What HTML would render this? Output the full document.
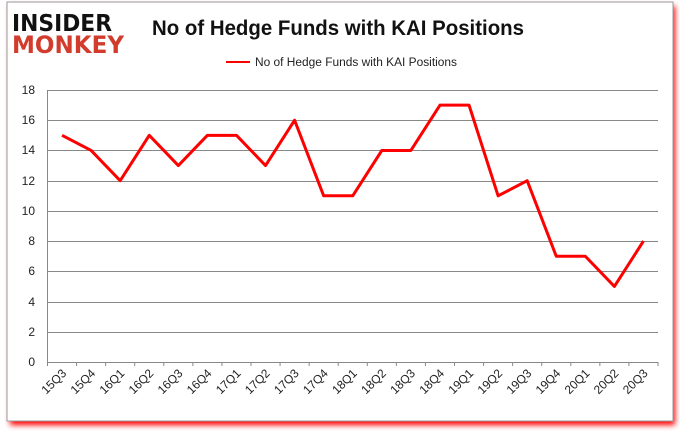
<!DOCTYPE html>
<html><head><style>
body{margin:0;width:680px;height:433px;background:#fff;overflow:hidden;font-family:"Liberation Sans",sans-serif}
</style></head><body>
<svg width="680" height="433" xmlns="http://www.w3.org/2000/svg">
<defs><filter id="sh" x="-5%" y="-5%" width="110%" height="115%"><feGaussianBlur stdDeviation="3"/></filter></defs>
<rect x="10" y="6" width="665" height="419" fill="#f00" filter="url(#sh)"/>
<rect x="7" y="2" width="666" height="419" fill="#fff" stroke="#999" stroke-width="1"/>
<text x="12" y="31" font-size="23" font-weight="bold" fill="#111" font-family="DejaVu Sans" textLength="100" lengthAdjust="spacingAndGlyphs">INSIDER</text>
<text x="12" y="53" font-size="24" font-weight="bold" fill="#d23c2c" font-family="DejaVu Sans" textLength="112" lengthAdjust="spacingAndGlyphs">MONKEY</text>
<text x="338" y="35" font-size="21" font-weight="bold" text-anchor="middle" fill="#111" textLength="372" lengthAdjust="spacingAndGlyphs">No of Hedge Funds with KAI Positions</text>
<line x1="226" y1="62" x2="250" y2="62" stroke="#f00" stroke-width="2"/>
<text x="255" y="66" font-size="11.5" fill="#222" textLength="202" lengthAdjust="spacingAndGlyphs">No of Hedge Funds with KAI Positions</text>
<g stroke="#888" stroke-width="1">
<line x1="47.5" y1="90.5" x2="658" y2="90.5"/><line x1="47.5" y1="120.5" x2="658" y2="120.5"/>
<line x1="47.5" y1="150.5" x2="658" y2="150.5"/><line x1="47.5" y1="181.5" x2="658" y2="181.5"/>
<line x1="47.5" y1="211.5" x2="658" y2="211.5"/><line x1="47.5" y1="241.5" x2="658" y2="241.5"/>
<line x1="47.5" y1="271.5" x2="658" y2="271.5"/><line x1="47.5" y1="302.5" x2="658" y2="302.5"/>
<line x1="47.5" y1="332.5" x2="658" y2="332.5"/><line x1="47.5" y1="362.5" x2="658" y2="362.5"/>
<line x1="47.5" y1="90" x2="47.5" y2="362"/>
</g>
<g font-size="12" fill="#222" text-anchor="end">
<text x="35" y="94">18</text><text x="35" y="124">16</text><text x="35" y="154">14</text><text x="35" y="185">12</text><text x="35" y="215">10</text><text x="35" y="245">8</text><text x="35" y="275">6</text><text x="35" y="306">4</text><text x="35" y="336">2</text><text x="35" y="366">0</text>
</g>
<g id="ticks" stroke="#888"></g>
<g id="labels" font-size="12" fill="#222" text-anchor="end"></g>
<polyline id="ln" fill="none" stroke="#f00" stroke-width="3" stroke-linejoin="round"/>
</svg>
<script>
var d=[15,14,12,15,13,15,15,13,16,11,11,14,14,17,17,11,12,7,7,5,8];
var q=["15Q3","15Q4","16Q1","16Q2","16Q3","16Q4","17Q1","17Q2","17Q3","17Q4","18Q1","18Q2","18Q3","18Q4","19Q1","19Q2","19Q3","19Q4","20Q1","20Q2","20Q3"];
var ns="http://www.w3.org/2000/svg",w=610.5/21,p=[],t=document.getElementById("ticks"),l=document.getElementById("labels");
for(var i=0;i<=21;i++){var x=47.5+i*w,e=document.createElementNS(ns,"line");e.setAttribute("x1",x);e.setAttribute("x2",x);e.setAttribute("y1",362);e.setAttribute("y2",366);t.appendChild(e);}
for(i=0;i<21;i++){var cx=47.5+w*(i+0.5);p.push(cx+","+(362-d[i]*15.11));
var s=document.createElementNS(ns,"text");s.setAttribute("transform","translate("+(cx+5)+",374) rotate(-45)");s.textContent=q[i];l.appendChild(s);}
document.getElementById("ln").setAttribute("points",p.join(" "));
</script>
</body></html>
